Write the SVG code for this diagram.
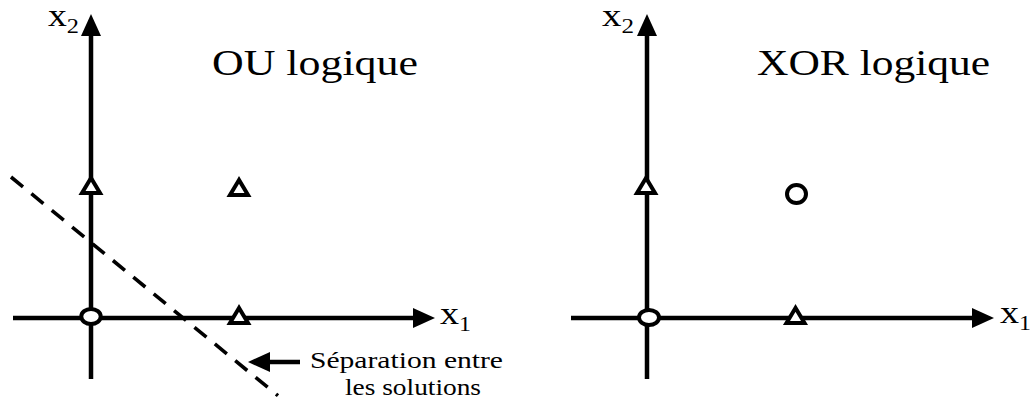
<svg xmlns="http://www.w3.org/2000/svg" width="1036" height="406" viewBox="0 0 1036 406">
  <style>
    .axis { stroke: #000; stroke-width: 4.5; fill: none; }
    .sep { stroke: #000; stroke-width: 3.6; fill: none; stroke-dasharray: 15.5 10.85; }
    .tri { fill: #fff; stroke: #000; stroke-width: 4; stroke-linejoin: miter; }
    .circ { fill: #fff; stroke: #000; stroke-width: 4; }
    text { font-family: "Liberation Serif", "DejaVu Serif", "Times New Roman", serif; fill: #000; }
  </style>
  <defs>
    <marker id="ah" markerUnits="userSpaceOnUse" markerWidth="24" markerHeight="22" refX="2" refY="10" orient="auto" overflow="visible">
      <path d="M0,0 L22,10 L0,20 Z" fill="#000"/>
    </marker>
  </defs>
  <rect width="1036" height="406" fill="#fff"/>

  <g id="connectors">
    <line class="axis" x1="91" y1="379" x2="91" y2="34" marker-end="url(#ah)"/>
    <line class="axis" x1="13" y1="318" x2="415" y2="318" marker-end="url(#ah)"/>
    <line class="axis" x1="647" y1="379" x2="647" y2="34" marker-end="url(#ah)"/>
    <line class="axis" x1="571" y1="318" x2="974" y2="318" marker-end="url(#ah)"/>
    <line class="sep" x1="11" y1="177" x2="278" y2="395.7"/>
    <line class="axis" x1="300" y1="362" x2="268" y2="362" marker-end="url(#ah)"/>
  </g>

  <g id="left-origin"><ellipse class="circ" cx="91" cy="316.5" rx="9.7" ry="7.5"/></g>
  <g id="left-p01"><polygon class="tri" points="91,178 82,193 100,193"/></g>
  <g id="left-p11"><polygon class="tri" points="239,180 230,195 248,195"/></g>
  <g id="left-p10"><polygon class="tri" points="239,308 230,323 248,323"/></g>

  <g id="right-origin"><ellipse class="circ" cx="649" cy="317.5" rx="10" ry="7.5"/></g>
  <g id="right-p01"><polygon class="tri" points="646,178 637,193 655,193"/></g>
  <g id="right-p11"><ellipse class="circ" cx="796.5" cy="194" rx="9.5" ry="9"/></g>
  <g id="right-p10"><polygon class="tri" points="795.5,308 786.5,323 804.5,323"/></g>

  <g id="left-x2-label"><text x="48" y="26" font-family="Liberation Serif, serif" font-size="31" textLength="31" lengthAdjust="spacingAndGlyphs">x<tspan dy="7" font-size="20">2</tspan></text></g>
  <g id="left-x1-label"><text x="440" y="324" font-family="Liberation Serif, serif" font-size="32" textLength="31" lengthAdjust="spacingAndGlyphs">x<tspan dy="7" font-size="20">1</tspan></text></g>
  <g id="right-x2-label"><text x="602" y="26" font-family="Liberation Serif, serif" font-size="31" textLength="32" lengthAdjust="spacingAndGlyphs">x<tspan dy="7" font-size="20">2</tspan></text></g>
  <g id="right-x1-label"><text x="1000" y="323" font-family="Liberation Serif, serif" font-size="32" textLength="31" lengthAdjust="spacingAndGlyphs">x<tspan dy="7" font-size="20">1</tspan></text></g>

  <g id="title-ou"><text x="212" y="75" font-family="Liberation Serif, serif" font-size="35" textLength="206" lengthAdjust="spacingAndGlyphs">OU logique</text></g>
  <g id="title-xor"><text x="757" y="75" font-family="Liberation Serif, serif" font-size="35" textLength="233" lengthAdjust="spacingAndGlyphs">XOR logique</text></g>

  <g id="separation-label">
    <text x="310" y="368" font-family="Liberation Serif, serif" font-size="23" textLength="193" lengthAdjust="spacingAndGlyphs">Séparation entre</text>
    <text x="345" y="395" font-family="Liberation Serif, serif" font-size="23" textLength="136" lengthAdjust="spacingAndGlyphs">les solutions</text>
  </g>
</svg>
